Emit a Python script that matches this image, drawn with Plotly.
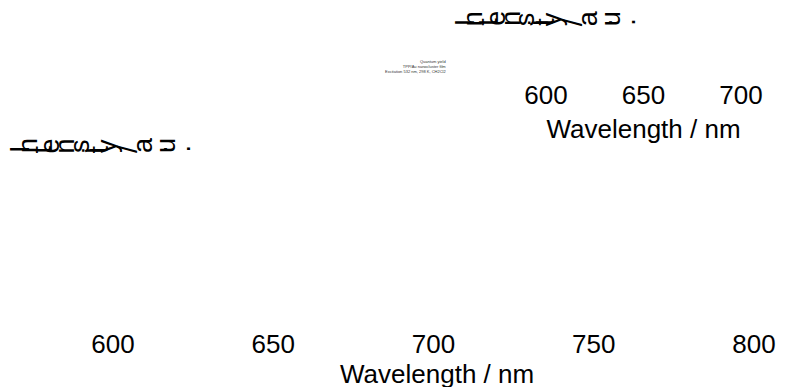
import plotly.graph_objects as go

W, H = 790, 387
FONT = "Liberation Sans, Arial, sans-serif"

# Main emission spectrum axis
main_ticks = [600, 650, 700, 750, 800]
main_range = [590, 810]

# Inset axis (top right)
inset_ticks = [600, 650, 700]
inset_range = [580, 720]

x_title = "Wavelength / nm"
y_title = "Intensity / a.u."

# Small caption block printed between the panels
caption_lines = [
    "Quantum yield",
    "TPP/Au nanocluster film",
    "Excitation 532 nm, 298 K, CH2Cl2",
]

# Advance widths (em) of the sans glyphs used in the axis label
ADV = {"I": 0.278, "n": 0.556, "t": 0.278, "e": 0.556, "s": 0.5, "i": 0.222,
       "y": 0.5, " ": 0.278, "/": 0.278, "a": 0.556, ".": 0.278, "u": 0.556}
ASC, DESC = 0.905, 0.212


def glyph_label(text, x0, baseline, size):
    """Lay a label out left to right, each glyph turned -90 degrees about its origin."""
    anns = []
    x = x0
    for ch in text:
        if ch != " ":
            anns.append(dict(
                text=ch, textangle=-90, showarrow=False,
                xref="paper", yref="paper",
                x=(x - (ASC - DESC) / 2 * size) / W, y=1 - baseline / H,
                xanchor="center", yanchor="bottom",
                borderpad=0, borderwidth=0,
                font=dict(family=FONT, size=size, color="black"),
            ))
        x += ADV[ch] * size
    return anns


def px_x(p):
    return p / W


def px_y(p):
    return 1 - p / H


fig = go.Figure()
fig.add_trace(go.Scatter(x=[], y=[], xaxis="x", yaxis="y", showlegend=False))
fig.add_trace(go.Scatter(x=[], y=[], xaxis="x2", yaxis="y2", showlegend=False))

axis_common = dict(showline=False, showgrid=False, zeroline=False, ticks="",
                   tickfont=dict(family=FONT, size=26, color="black"),
                   title_font=dict(family=FONT, size=26, color="black"))

fig.update_layout(
    width=W, height=H,
    margin=dict(l=0, r=0, t=0, b=0),
    paper_bgcolor="white", plot_bgcolor="white",
    showlegend=False,
    xaxis=dict(domain=[px_x(81), px_x(786)], range=main_range, anchor="y",
               tickvals=main_ticks, ticktext=[str(v) for v in main_ticks],
               **axis_common),
    yaxis=dict(domain=[px_y(326), px_y(170)], anchor="x", range=[0, 1],
               showticklabels=False, showline=False, showgrid=False, zeroline=False),
    xaxis2=dict(domain=[px_x(507), px_x(780)], range=inset_range, anchor="y2",
                tickvals=inset_ticks, ticktext=[str(v) for v in inset_ticks],
                title=dict(text=x_title, standoff=10), **axis_common),
    yaxis2=dict(domain=[px_y(77), px_y(30)], anchor="x2", range=[0, 1],
                showticklabels=False, showline=False, showgrid=False, zeroline=False),
)

annotations = []
# main x-axis title sits partly below the page edge
annotations.append(dict(
    text=x_title, showarrow=False, xref="paper", yref="paper",
    x=px_x(437), y=px_y(374), xanchor="center", yanchor="middle",
    borderpad=0, borderwidth=0,
    font=dict(family=FONT, size=26, color="black"),
))
annotations += glyph_label(y_title, 29.3, 153, 27)
annotations += glyph_label(y_title, 474.6, 26, 27)
annotations.append(dict(
    text="<br>".join(caption_lines), showarrow=False, align="right",
    xref="paper", yref="paper", x=px_x(448), y=px_y(67),
    xanchor="right", yanchor="middle",
    font=dict(family=FONT, size=4, color="#333333"),
))
fig.update_layout(annotations=annotations)

fig.write_html("out.html")
